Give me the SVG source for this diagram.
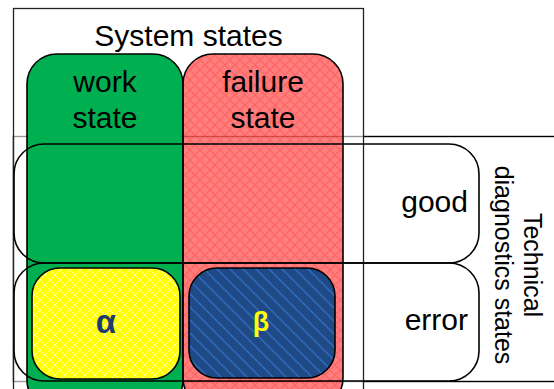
<svg xmlns="http://www.w3.org/2000/svg" width="554" height="389" viewBox="0 0 554 389">
<style>
text{font-family:"Liberation Sans",Arial,sans-serif;fill:#000}
.lbl{font-size:30px}
.rot{font-size:25px}
.ol{fill:none;stroke:#000;stroke-width:1.6}
.greek{font-weight:bold;text-anchor:middle}
</style>
<defs>
<pattern id="pRed" width="10" height="10" patternUnits="userSpaceOnUse">
<rect width="10" height="10" fill="#FF0000" fill-opacity="0.5"/>
<path d="M0,0L10,10M10,0L0,10" stroke="#FF0000" stroke-opacity="0.2" stroke-width="1.4"/>
</pattern>
<pattern id="pYel" width="10" height="10" patternUnits="userSpaceOnUse">
<rect width="10" height="10" fill="#FFFF00"/>
<path d="M0,0L10,10M10,0L0,10" stroke="#FFFF99" stroke-width="1"/>
</pattern>
<pattern id="pBlue" width="13" height="13" patternUnits="userSpaceOnUse">
<rect width="13" height="13" fill="#1F4A86"/>
<path d="M0,0L13,13M-2,11L2,15M11,-2L15,2" stroke="#3069BE" stroke-width="1.5"/>
</pattern>
</defs>
<g id="tech-box">
<rect x="13.5" y="136.5" width="560" height="245" fill="#fff" stroke="#000" stroke-width="1.4"/>
</g>
<g id="system-box">
<rect x="13.5" y="8.5" width="350" height="400" fill="#fff" fill-opacity="0.6" stroke="#222" stroke-width="1.3"/>
<text class="lbl" x="188.5" y="46" text-anchor="middle">System states</text>
</g>
<g id="work-state">
<rect x="27" y="54" width="156" height="356" rx="30" fill="#00B050" stroke="#000" stroke-width="1.6"/>
<text class="lbl" x="105" y="92" text-anchor="middle">work</text>
<text class="lbl" x="105" y="128" text-anchor="middle">state</text>
</g>
<g id="failure-state">
<rect x="183" y="54" width="160" height="354" rx="30" fill="url(#pRed)" stroke="#000" stroke-width="1.6"/>
<text class="lbl" x="263" y="92" text-anchor="middle">failure</text>
<text class="lbl" x="263" y="128" text-anchor="middle">state</text>
</g>
<g id="good">
<rect class="ol" x="14" y="144" width="465" height="119" rx="30"/>
<text class="lbl" x="468" y="212" text-anchor="end">good</text>
</g>
<g id="error">
<rect class="ol" x="14" y="263" width="465" height="118" rx="30"/>
<text class="lbl" x="468" y="330" text-anchor="end">error</text>
</g>
<g id="alpha">
<rect x="32" y="268" width="148" height="111" rx="28" fill="url(#pYel)" stroke="#000" stroke-width="1.6"/>
<text class="greek" x="106" y="333" font-size="33" style="fill:#1F3A6E">α</text>
</g>
<g id="beta">
<rect x="189" y="268" width="146" height="110" rx="28" fill="url(#pBlue)" stroke="#000" stroke-width="1.6"/>
<text class="greek" x="261" y="331" font-size="27" style="fill:#FFFF00">β</text>
</g>
<g id="tech-label">
<text class="rot" transform="translate(524,265) rotate(90)" text-anchor="middle">Technical</text>
<text class="rot" transform="translate(495,265) rotate(90)" text-anchor="middle">diagnostics states</text>
</g>
<g id="connectors"></g>
</svg>
